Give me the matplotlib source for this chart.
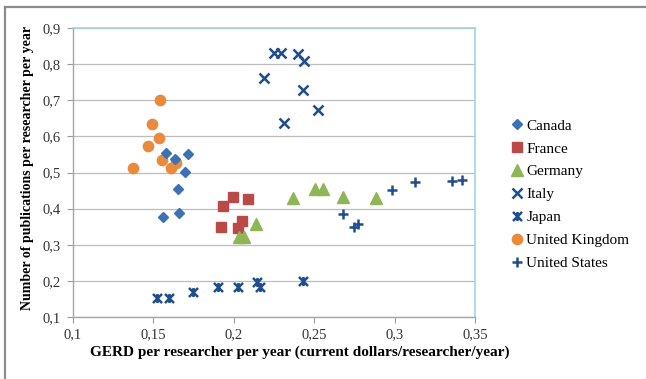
import matplotlib
matplotlib.use("Agg")
import matplotlib.pyplot as plt
from matplotlib.lines import Line2D
from matplotlib.path import Path

# GERD per researcher (x) vs publications per researcher (y)
canada_x = [0.158, 0.1717, 0.1634, 0.1697, 0.1655, 0.1562, 0.166]
canada_y = [0.553, 0.551, 0.537, 0.5025, 0.454, 0.378, 0.389]

france_x = [0.1935, 0.1993, 0.2086, 0.2049, 0.192, 0.2024]
france_y = [0.4075, 0.4316, 0.428, 0.367, 0.3485, 0.347]

germany_x = [0.2366, 0.2505, 0.2553, 0.268, 0.2882, 0.2136, 0.2034, 0.2063]
germany_y = [0.4305, 0.4546, 0.4546, 0.433, 0.4305, 0.3576, 0.3208, 0.3208]

italy_x = [0.225, 0.2294, 0.2401, 0.2438, 0.2188, 0.2428, 0.2526, 0.2314]
italy_y = [0.8305, 0.8305, 0.8285, 0.8075, 0.761, 0.7288, 0.6734, 0.638]

japan_x = [0.1525, 0.1599, 0.1744, 0.1904, 0.2028, 0.2146, 0.2163, 0.2428]
japan_y = [0.1518, 0.1518, 0.1684, 0.184, 0.184, 0.196, 0.184, 0.1997]

uk_x = [0.154, 0.149, 0.1537, 0.1468, 0.1556, 0.164, 0.161, 0.1375]
uk_y = [0.701, 0.635, 0.596, 0.574, 0.535, 0.527, 0.512, 0.513]

us_x = [0.2982, 0.3127, 0.3359, 0.3417, 0.2681, 0.2747, 0.277]
us_y = [0.451, 0.473, 0.4777, 0.4795, 0.385, 0.3485, 0.3576]

x_ticks = [0.1, 0.15, 0.2, 0.25, 0.3, 0.35]
x_labels = ["0,1", "0,15", "0,2", "0,25", "0,3", "0,35"]
y_ticks = [0.1, 0.2, 0.3, 0.4, 0.5, 0.6, 0.7, 0.8, 0.9]
y_labels = ["0,1", "0,2", "0,3", "0,4", "0,5", "0,6", "0,7", "0,8", "0,9"]

plt.rcParams["font.family"] = ["Liberation Serif", "DejaVu Serif"]

W, H = 646, 379
fig = plt.figure(figsize=(W / 100, H / 100), dpi=100)
ax = fig.add_axes([73 / W, 1 - 317 / H, 402 / W, 289 / H])

navy = "#1f4e8c"

# x with a vertical bar through it
star_path = Path(
    [(-1, -1), (1, 1), (-1, 1), (1, -1), (0, -1), (0, 1)],
    [Path.MOVETO, Path.LINETO, Path.MOVETO, Path.LINETO, Path.MOVETO, Path.LINETO],
)

ax.plot(canada_x, canada_y, ls="none", marker="D", ms=5.2, color="#3c72b4", label="Canada", zorder=3)
ax.plot(france_x, france_y, ls="none", marker="s", ms=7.8, color="#b94a48", label="France", zorder=3)
ax.plot(germany_x, germany_y, ls="none", marker="^", ms=8.2, color="#8fb655", label="Germany", zorder=3)
ax.plot(italy_x, italy_y, ls="none", marker="x", ms=6.8, mew=1.8, color=navy, label="Italy", zorder=3)
ax.plot(japan_x, japan_y, ls="none", marker=star_path, ms=6.5, mew=1.8, color=navy, label="Japan", zorder=3)
ax.plot(uk_x, uk_y, ls="none", marker="o", ms=7.4, color="#ea8a3c", label="United Kingdom", zorder=2)
ax.plot(us_x, us_y, ls="none", marker="+", ms=7.0, mew=1.8, color=navy, label="United States", zorder=3)

ax.set_xlim(0.1, 0.35)
ax.set_ylim(0.1, 0.9)
ax.set_xticks(x_ticks)
ax.set_xticklabels(x_labels)
ax.set_yticks(y_ticks)
ax.set_yticklabels(y_labels)
ax.tick_params(axis="both", direction="out", length=4, width=0.8, color="#9a9a9a",
               labelsize=10.5, labelcolor="#333333")
ax.tick_params(axis="y", pad=5)
ax.tick_params(axis="x", pad=4)

ax.grid(axis="y", color="#bdbdbd", lw=0.9)
ax.set_axisbelow(True)
for side in ["top", "right"]:
    ax.spines[side].set_color("#9fd3e3")
    ax.spines[side].set_linewidth(1.2)
for side in ["left", "bottom"]:
    ax.spines[side].set_color("#a6a6a6")
    ax.spines[side].set_linewidth(1.0)

ax.set_xlabel("GERD per researcher per year (current dollars/researcher/year)",
              fontsize=11, fontweight="bold", va="center")
ax.xaxis.set_label_coords((300 - 73) / 402, (317 - 352) / 289)
ax.set_ylabel("Number of publications per researcher per year",
              fontsize=10, fontweight="bold", va="center")
ax.yaxis.set_label_coords((27 - 73) / 402, (317 - 168) / 289)

fig.legend(loc="upper left", bbox_to_anchor=(511 / W, 1 - 119 / H), frameon=False,
           fontsize=11, handlelength=0.8, handletextpad=0.2, labelspacing=0.6,
           borderaxespad=0, borderpad=0)

# outer frame lines
fig.add_artist(Line2D([5 / W, 1], [1 - 7 / H, 1 - 7 / H], color="#8c8c8c", lw=1.6))
fig.add_artist(Line2D([5 / W, 5 / W], [0, 1 - 7 / H], color="#8c8c8c", lw=1.6))

fig.savefig("out.png", dpi=100)
